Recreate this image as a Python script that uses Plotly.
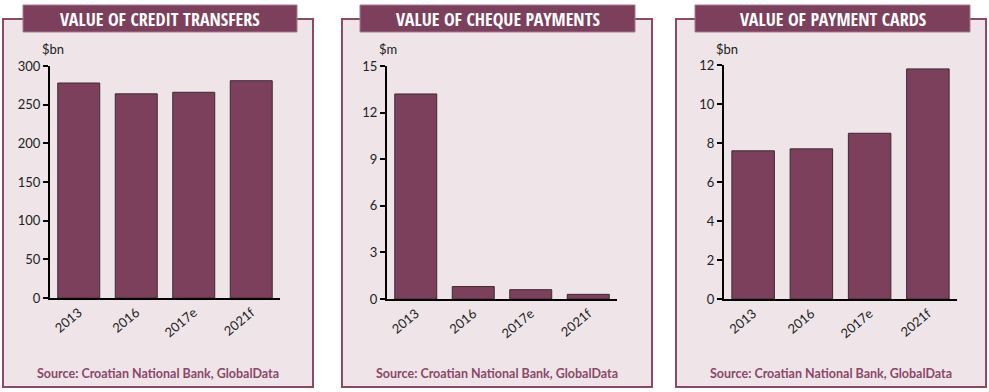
import plotly.graph_objects as go

W, H = 989, 392

categories = ["2013", "2016", "2017e", "2021f"]
credit_transfers = [278, 264, 266, 281]
cheque_payments = [13.2, 0.8, 0.6, 0.3]
payment_cards = [7.6, 7.7, 8.5, 11.8]

titles = ["VALUE OF CREDIT TRANSFERS", "VALUE OF CHEQUE PAYMENTS", "VALUE OF PAYMENT CARDS"]
units = ["$bn", "$m", "$bn"]
y_ticks = [[0, 50, 100, 150, 200, 250, 300], [0, 3, 6, 9, 12, 15], [0, 2, 4, 6, 8, 10, 12]]
y_max = [300, 15, 12]
source = "Source: Croatian National Bank, GlobalData"
series = [credit_transfers, cheque_payments, payment_cards]

BAR = "#7d405c"
PANEL_BG = "#efe5e9"
BORDER = "#8a4a68"
SRC = "#8a4868"

# pixel layout
panels = [
    dict(box=(3, 313), ban=(23, 297), px=(50, 280), py=(298, 66)),
    dict(box=(342, 652), ban=(360, 635), px=(387, 617), py=(299, 66)),
    dict(box=(676, 986), ban=(695, 970), px=(724, 957), py=(299, 65)),
]

def fx(p):
    return p / W

def fy(p):
    return 1 - p / H

fig = go.Figure()
shapes = []
annotations = []
for i, (pn, vals) in enumerate(zip(panels, series)):
    xa = "x" if i == 0 else f"x{i+1}"
    ya = "y" if i == 0 else f"y{i+1}"
    fig.add_trace(go.Bar(
        x=categories, y=vals, xaxis=xa, yaxis=ya,
        marker=dict(color=BAR, line=dict(color="#3d2a33", width=1)),
        hoverinfo="x+y", showlegend=False,
    ))
    key = "" if i == 0 else str(i + 1)
    fig.layout["xaxis" + key] = dict(
        type="category",
        domain=[fx(pn["px"][0]), fx(pn["px"][1])], anchor=ya,
        showline=True, linecolor="black", linewidth=2,
        ticks="", tickangle=-40, showgrid=False, automargin=False,
        tickfont=dict(family="Lato", size=13, color="#222"),
        fixedrange=True,
    )
    fig.layout["yaxis" + key] = dict(
        domain=[fy(pn["py"][0]), fy(pn["py"][1])], anchor=xa,
        range=[0, y_max[i]], tickvals=y_ticks[i],
        showline=True, linecolor="black", linewidth=2,
        ticks="outside", ticklen=5, tickwidth=2, tickcolor="black",
        showgrid=False, zeroline=False, automargin=False,
        tickfont=dict(family="Lato", size=13, color="#222"),
        fixedrange=True,
    )
    bx0, bx1 = pn["box"]
    shapes.append(dict(type="rect", xref="paper", yref="paper", layer="below",
                       x0=fx(bx0), x1=fx(bx1), y0=fy(387), y1=fy(19),
                       fillcolor=PANEL_BG, line=dict(color=BORDER, width=2)))
    b0, b1 = pn["ban"]
    shapes.append(dict(type="rect", xref="paper", yref="paper", layer="below",
                       x0=fx(b0), x1=fx(b1), y0=fy(32), y1=fy(5),
                       fillcolor=BAR, line=dict(color="#a9768e", width=1)))
    annotations.append(dict(xref="paper", yref="paper", x=fx((b0 + b1) / 2), y=fy(18.5),
                            text=titles[i], showarrow=False, xanchor="center", yanchor="middle",
                            font=dict(family="Open Sans Condensed, Roboto Condensed, sans-serif",
                                      size=18, color="white", weight="bold")))
    annotations.append(dict(xref="paper", yref="paper", x=fx((bx0 + bx1) / 2), y=fy(373),
                            text=source, showarrow=False, xanchor="center", yanchor="middle",
                            font=dict(family="Lato", size=12.5, color=SRC, weight="bold")))
    annotations.append(dict(xref="paper", yref="paper", x=fx(pn["px"][0] - 10), y=fy(49),
                            text=units[i], showarrow=False, xanchor="left", yanchor="middle",
                            font=dict(family="Lato", size=13, color="#222")))

fig.update_layout(
    template="none",
    width=W, height=H, margin=dict(l=0, r=0, t=0, b=0, pad=0),
    paper_bgcolor="white", plot_bgcolor="rgba(0,0,0,0)",
    bargap=0.27, shapes=shapes, annotations=annotations,
)

fig.write_html("out.html", config={"displayModeBar": False},
               post_script="document.body.style.margin='0';")
